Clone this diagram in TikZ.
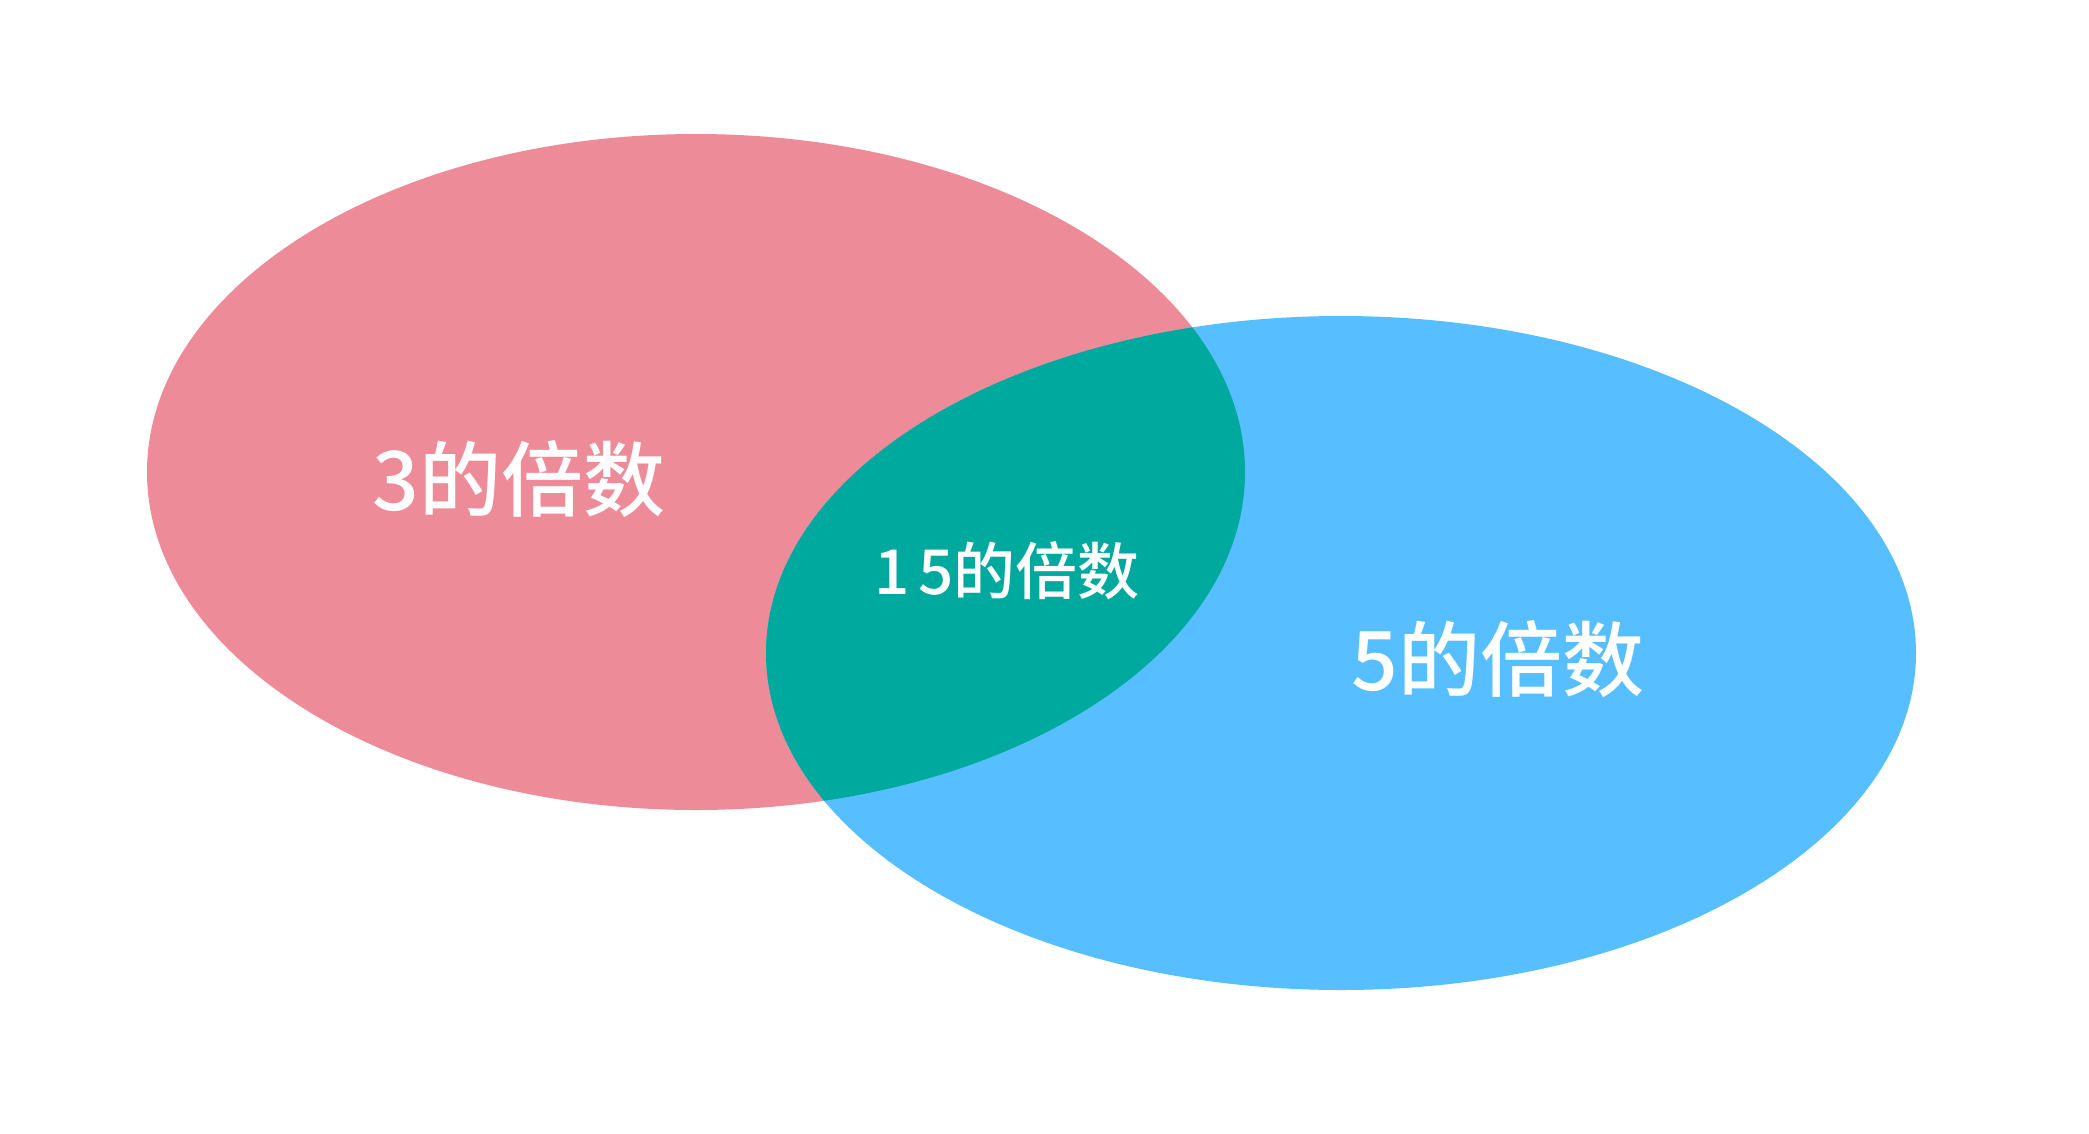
\documentclass[tikz,border=0pt]{standalone}
\usepackage{fontspec}
\newfontfamily\cjk{Noto Sans CJK SC Medium}

\tikzset{every picture/.style={line width=0.75pt}}

\begin{document}
\begin{tikzpicture}[x=1pt,y=1pt,yscale=-1,xscale=1]
	\useasboundingbox (0,0) rectangle (2089,1133);

	%Shape: Ellipse [id:three] 
	\fill [color={rgb, 255:red, 238; green, 139; blue, 152 }] (696,472) ellipse [x radius=549, y radius=338];
	%Shape: Ellipse [id:five] 
	\fill [color={rgb, 255:red, 87; green, 191; blue, 255 }] (1341,653) ellipse [x radius=575, y radius=337];
	%Shape: Ellipse [id:fifteen] 
	\begin{scope}
	\clip (696,472) ellipse [x radius=549, y radius=338];
	\fill [color={rgb, 255:red, 0; green, 169; blue, 157 }] (1341,653) ellipse [x radius=575, y radius=337];
	\end{scope}

	% Text Node
	\draw (519,479) node [text={rgb, 255:red, 255; green, 255; blue, 255 }, font=\cjk\fontsize{82}{98}\selectfont] (three) {3的倍数};
	% Text Node
	\draw (1007,571) node [text={rgb, 255:red, 255; green, 255; blue, 255 }, font=\cjk\fontsize{62}{74}\selectfont] (fifteen) {1\kern8pt 5的倍数};
	% Text Node
	\draw (1498,659) node [text={rgb, 255:red, 255; green, 255; blue, 255 }, font=\cjk\fontsize{82}{98}\selectfont] (five) {5的倍数};

\end{tikzpicture}
\end{document}
